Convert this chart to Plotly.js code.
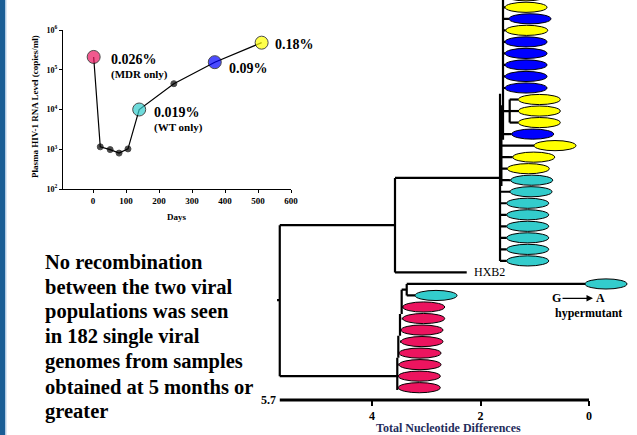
<!DOCTYPE html>
<html>
<head>
<meta charset="utf-8">
<script src="https://cdn.plot.ly/plotly-3.0.1.min.js"></script>
<style>html,body{margin:0;padding:0;background:#fff;}#chart{width:637px;height:435px;}</style>
</head>
<body>
<div id="chart"></div>
<script>
// ---------- Inset: plasma HIV-1 RNA over time ----------
const days = [2, 22, 52, 79, 106, 140, 245, 369, 511];
const rnaLevel = [210000, 1150, 980, 800, 1020, 10000, 44600, 155000, 480000];
const pointGroup = ['P', 'K', 'K', 'K', 'K', 'C', 'K', 'B', 'Y'];
const dayTicks = [0, 100, 200, 300, 400, 500, 600];
const rnaTickVals = [1e2, 1e3, 1e4, 1e5, 1e6];
const rnaTickText = ['10<sup>2</sup>', '10<sup>3</sup>', '10<sup>4</sup>', '10<sup>5</sup>', '10<sup>6</sup>'];
const pctLabels = ['0.026%', '(MDR only)', '0.019%', '(WT only)', '0.09%', '0.18%'];

// ---------- Phylogenetic tree ----------
const tipRow = [-1, 0, 1, 2, 3, 4, 5, 6, 7, 8, 9, 10, 11, 12, 13, 14, 15, 16, 17, 18, 19, 20, 21, 22, 24, 25, 26, 27, 28, 29, 30, 31, 32, 33];
const tipGroup = ['Y', 'Y', 'B', 'Y', 'B', 'B', 'B', 'B', 'B', 'Y', 'Y', 'Y', 'B', 'Y', 'Y', 'Y',
                  'C', 'C', 'C', 'C', 'C', 'C', 'C', 'C', 'C', 'C',
                  'P', 'P', 'P', 'P', 'P', 'P', 'P', 'P'];
const tipDist = [1.548, 1.548, 1.475, 1.535, 1.548, 1.548, 1.548, 1.548, 1.548, 1.303, 1.303, 1.303, 1.425, 1.014, 1.406, 1.506,
                 1.443, 1.456, 1.517, 1.517, 1.517, 1.517, 1.517, 1.517, 0.074, 3.207,
                 3.434, 3.434, 3.466, 3.466, 3.502, 3.502, 3.515, 3.515];
const tipNode = [1.585, 1.585, 1.585, 1.585, 1.585, 1.585, 1.585, 1.585, 1.585, 1.462, 1.462, 1.462, 1.62, 1.64, 1.64, 1.64,
                 1.64, 1.64, 1.64, 1.64, 1.64, 1.64, 1.64, 1.64, 3.36, 3.36,
                 3.453, 3.453, 3.484, 3.484, 3.515, 3.515, 3.534, 3.534];
// internal branches: [dist0, row0, dist1, row1]
const branches = [
  [5.75, 25.4, 5.7, 25.4], [5.7, 18.9, 5.7, 32], [5.7, 18.9, 3.576, 18.9], [5.7, 32, 3.534, 32],
  [3.576, 14.8, 3.576, 23], [3.576, 14.8, 1.62, 14.8], [3.576, 23, 2.254, 23],
  [1.585, -1.5, 1.585, 11.5], [1.64, 7.5, 1.64, 22], [1.615, 8.5, 1.615, 15.5],
  [1.585, 9, 1.462, 9], [1.462, 8, 1.462, 10],
  [3.36, 24, 3.36, 25], [3.453, 24.5, 3.36, 24.5], [3.453, 24.5, 3.453, 26.6],
  [3.484, 26.6, 3.484, 28.5], [3.515, 28.5, 3.515, 30.4], [3.534, 30.4, 3.534, 33.2]
];
const refLabel = 'HXB2';
const refRow = 23;
const refDist = 2.162;
const treeTicks = [4, 2, 0];
const rootDist = 5.7;
const textLines = ['No recombination', 'between the two viral', 'populations was seen',
                   'in 182 single viral', 'genomes from samples', 'obtained at 5 months or', 'greater'];

const groupColor = {Y: '#ffff00', B: '#0000ff', C: '#33cccc', P: '#ec145f', K: '#000000'};

// ---------- helpers for layout positions ----------
const W = 637, H = 435;
const px = x => x / W;
const py = y => 1 - y / H;
const FONT = 'Liberation Serif';
const b = t => '<b>' + t + '</b>';

// tree axis geometry
const ZERO_PX = 589, UNIT_PX = 54.25;
const ROW0_PX = 7.3, ROW_PX = 11.527;
const treeXRange = [(ZERO_PX - 274.35) / UNIT_PX, -(W - ZERO_PX) / UNIT_PX];
const treeYRange = [(H - ROW0_PX) / ROW_PX, -ROW0_PX / ROW_PX];

// ---------- traces ----------
const traces = [];
traces.push({
  x: days, y: rnaLevel, xaxis: 'x', yaxis: 'y', type: 'scatter', mode: 'lines+markers',
  line: {color: '#000', width: 1.2},
  marker: {
    color: pointGroup.map(g => groupColor[g]),
    size: pointGroup.map(g => g === 'K' ? 6 : 13),
    line: {color: '#000', width: 1}
  },
  hoverinfo: 'skip', showlegend: false
});

const bx = [], by = [];
branches.forEach(s => { bx.push(s[0], s[2], null); by.push(s[1], s[3], null); });
tipRow.forEach((r, i) => { bx.push(tipNode[i], tipDist[i], null); by.push(r, r, null); });
traces.push({
  x: bx, y: by, xaxis: 'x2', yaxis: 'y3', type: 'scatter', mode: 'lines',
  line: {color: '#000', width: 2.2}, hoverinfo: 'skip', showlegend: false
});

// ---------- shapes ----------
const ELL_W = 0.774, ELL_H = 0.44;
const shapes = [
  {type: 'rect', xref: 'paper', yref: 'paper', x0: 0, x1: px(5.2), y0: 0, y1: 1, fillcolor: '#1a5e96', line: {width: 0}, layer: 'below'},
  {type: 'rect', xref: 'paper', yref: 'paper', x0: px(5.2), x1: px(6.4), y0: 0, y1: 1, fillcolor: '#a9c6e4', line: {width: 0}, layer: 'below'},
  {type: 'line', xref: 'x2', yref: 'paper', x0: rootDist, x1: 0, y0: py(400), y1: py(400), line: {color: '#000', width: 3}}
];
tipRow.forEach((r, i) => {
  shapes.push({
    type: 'circle', xref: 'x2', yref: 'y3',
    x0: tipDist[i], x1: tipDist[i] - ELL_W, y0: r - ELL_H, y1: r + ELL_H,
    fillcolor: groupColor[tipGroup[i]], line: {color: '#000', width: 1}
  });
});

// ---------- annotations ----------
const fnt = (size, color) => ({family: FONT, size: size, color: color || '#000'});
const ann = [];
const pctPos = [[109, 59, 14], [109, 74.5, 11], [152, 112.7, 14], [152, 127.7, 11], [226.7, 68.3, 14], [272.7, 44.3, 14]];
pctLabels.forEach((t, i) => ann.push({
  text: b(t), xref: 'paper', yref: 'paper', x: px(pctPos[i][0]), y: py(pctPos[i][1]),
  xanchor: 'left', yanchor: 'middle', showarrow: false, font: fnt(pctPos[i][2])
}));
ann.push({text: b('Days'), xref: 'paper', yref: 'paper', x: px(177), y: py(216.7), xanchor: 'center', yanchor: 'middle', showarrow: false, font: fnt(9)});
ann.push({text: b('Plasma HIV-1 RNA Level (copies/ml)'), xref: 'paper', yref: 'paper', x: px(35), y: py(107), textangle: -90,
  xanchor: 'center', yanchor: 'middle', showarrow: false, font: fnt(9)});
textLines.forEach((t, i) => ann.push({
  text: b(t), xref: 'paper', yref: 'paper', x: px(43.3), y: py(261.7 + 25 * i),
  xanchor: 'left', yanchor: 'middle', showarrow: false, font: fnt(20.5)
}));
ann.push({text: refLabel, xref: 'x2', yref: 'y3', x: refDist, y: refRow, xanchor: 'left', yanchor: 'middle', showarrow: false,
  font: fnt(12)});
ann.push({text: b(String(rootDist)), xref: 'paper', yref: 'paper', x: px(278), y: py(400), xanchor: 'right', yanchor: 'middle', showarrow: false, font: fnt(12)});
ann.push({text: b('Total Nucleotide Differences'), xref: 'paper', yref: 'paper', x: px(448), y: py(428), xanchor: 'center', yanchor: 'middle',
  showarrow: false, font: fnt(12, '#1f2d5c')});
ann.push({text: b('G'), xref: 'paper', yref: 'paper', x: px(593), y: py(298.3), ax: -36.5, ay: 0, showarrow: true,
  arrowhead: 2, arrowsize: 1, arrowwidth: 1.3, arrowcolor: '#000', font: fnt(12)});
ann.push({text: b('A'), xref: 'paper', yref: 'paper', x: px(593.5), y: py(298.3), xanchor: 'left', yanchor: 'middle', showarrow: false, font: fnt(12)});
ann.push({text: b('hypermutant'), xref: 'paper', yref: 'paper', x: px(553), y: py(312.7), xanchor: 'left', yanchor: 'middle', showarrow: false, font: fnt(12)});

// ---------- layout ----------
const layout = {
  width: W, height: H, margin: {l: 0, r: 0, t: 0, b: 0},
  paper_bgcolor: '#fff', plot_bgcolor: 'rgba(0,0,0,0)', showlegend: false,
  font: {family: FONT, color: '#000'},
  xaxis: {
    domain: [px(63), px(291)], range: [-90.9, 600], anchor: 'y',
    tickvals: dayTicks, ticktext: dayTicks.map(v => b(v)), ticks: 'outside', ticklen: 3, tickwidth: 1, tickcolor: '#000',
    showline: true, linecolor: '#000', linewidth: 1.2, showgrid: false, zeroline: false,
    tickfont: fnt(9), fixedrange: true
  },
  yaxis: {
    domain: [py(189), py(30)], type: 'log', range: [2, 6], anchor: 'x',
    tickvals: rnaTickVals, ticktext: rnaTickText.map(b), ticks: 'outside', ticklen: 3, tickwidth: 1, tickcolor: '#000',
    showline: true, linecolor: '#000', linewidth: 1.2, showgrid: false, zeroline: false,
    tickfont: fnt(8), fixedrange: true
  },
  xaxis2: {
    domain: [px(274.35), 1], range: treeXRange, anchor: 'free', position: py(400),
    tickvals: treeTicks, ticktext: treeTicks.map(v => b(v)), ticks: 'outside', ticklen: 5, tickwidth: 2, tickcolor: '#000',
    showline: false, showgrid: false, zeroline: false, ticklabelstandoff: 0,
    tickfont: fnt(12), fixedrange: true
  },
  yaxis3: {
    domain: [0, 1], range: treeYRange, anchor: 'x2', visible: false, showgrid: false, zeroline: false, fixedrange: true
  },
  shapes: shapes,
  annotations: ann
};

Plotly.newPlot('chart', traces, layout, {displayModeBar: false, staticPlot: true});
</script>
</body>
</html>
